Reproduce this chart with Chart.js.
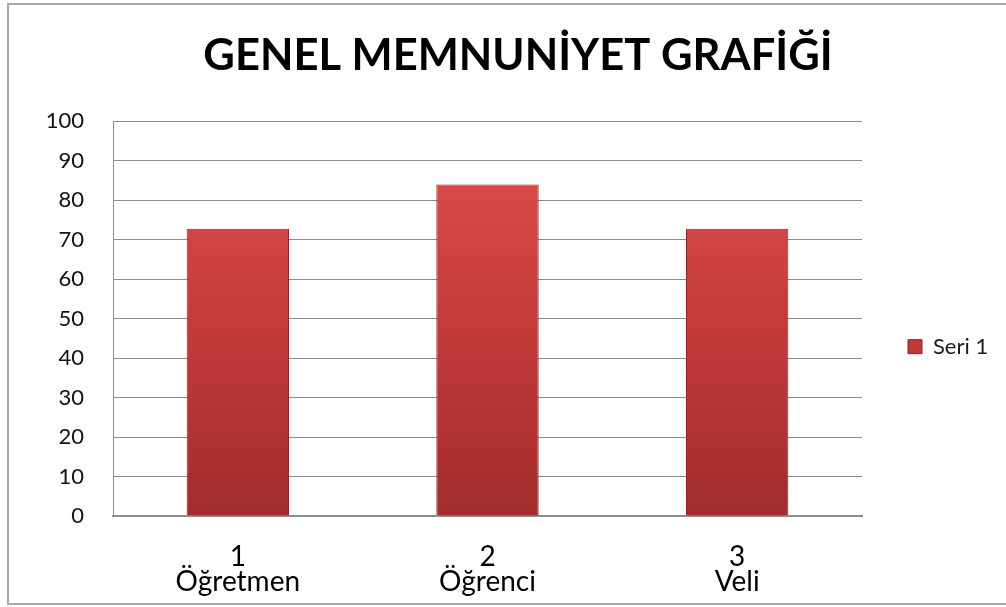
<!DOCTYPE html>
<html>
<head>
<meta charset="utf-8">
<style>
  html, body { margin: 0; padding: 0; background: #fff; }
  #wrap { width: 1006px; height: 607px; }
</style>
<script src="https://cdn.jsdelivr.net/npm/chart.js@4"></script>
</head>
<body>
<div id="wrap"><canvas id="c" width="1006" height="607"></canvas></div>
<script>
const titleText = 'GENEL MEMNUNİYET GRAFİĞİ';
const categoryNumbers = ['1', '2', '3'];
const categoryNames = ['Öğretmen', 'Öğrenci', 'Veli'];
const seriesName = 'Seri 1';
const seriesValues = [72.7, 83.9, 72.7];
const yMin = 0, yMax = 100, yStep = 10;

const labels = categoryNumbers.map((n, i) => [n, categoryNames[i]]);

const framePlugin = {
  id: 'frame',
  beforeDraw(chart) {
    const c = chart.ctx;
    c.save();
    c.fillStyle = '#ffffff';
    c.fillRect(0, 0, chart.width, chart.height);
    c.strokeStyle = '#a8a8a8';
    c.lineWidth = 2;
    c.strokeRect(8, 4, chart.width + 10, chart.height - 7);
    c.restore();
  }
};

function barFill(ctx) {
  const chart = ctx.chart;
  const area = chart.chartArea;
  if (!area) return '#c83c3c';
  const g = chart.ctx.createLinearGradient(0, area.bottom, 0, area.top);
  g.addColorStop(0, '#a22c2c');
  g.addColorStop(0.5, '#c43b3b');
  g.addColorStop(1, '#e44e4e');
  return g;
}

new Chart(document.getElementById('c'), {
  type: 'bar',
  data: {
    labels: labels,
    datasets: [{
      label: seriesName,
      data: seriesValues,
      backgroundColor: barFill,
      borderColor: '#8e2626',
      borderWidth: 1,
      categoryPercentage: 1.0,
      barPercentage: 0.41
    }]
  },
  plugins: [framePlugin],
  options: {
    responsive: false,
    animation: false,
    layout: { padding: { left: 40, right: 10, top: 0, bottom: 0 } },
    plugins: {
      title: {
        display: true,
        text: titleText,
        color: '#000000',
        font: { family: 'Lato', size: 43.5, weight: 'bold', lineHeight: 1.2 },
        padding: { top: 30, bottom: 38.8 }
      },
      legend: {
        position: 'right',
        fullSize: true,
        maxWidth: 134,
        title: { display: true, text: '', font: { size: 12, lineHeight: 1.2 }, padding: { top: 72, bottom: 0 } },
        labels: {
          boxWidth: 14,
          boxHeight: 14,
          padding: 46,
          color: '#1a1a1a',
          font: { family: 'Lato', size: 22 }
        }
      },
      tooltip: { enabled: false }
    },
    scales: {
      x: {
        grid: { display: false, drawTicks: false },
        border: { display: true, color: '#8c8c8c', width: 2 },
        ticks: {
          color: '#000000',
          padding: 28,
          font: { family: 'Lato', size: 28, lineHeight: 0.9 },
          maxRotation: 0
        },
        afterFit(scale) { scale.height = 91; }
      },
      y: {
        min: yMin,
        max: yMax,
        grid: { color: '#8c8c8c', lineWidth: 1, drawTicks: false },
        border: { display: true, color: '#8c8c8c', width: 1 },
        ticks: {
          stepSize: yStep,
          color: '#111111',
          padding: 29,
          font: { family: 'Lato', size: 22 }
        },
        afterFit(scale) { scale.width = 73; }
      }
    }
  }
});
</script>
</body>
</html>
